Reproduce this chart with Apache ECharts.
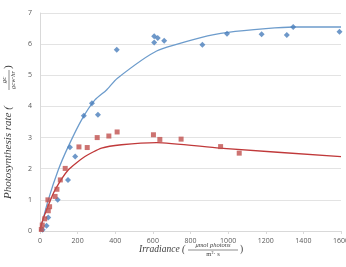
<!DOCTYPE html>
<html><head><meta charset="utf-8">
<script src="https://cdn.jsdelivr.net/npm/echarts@6/dist/echarts.min.js"></script>
<style>html,body{margin:0;padding:0;background:#fff;}#c{width:346px;height:267px;}</style>
</head><body><div id="c"></div>
<script>
// Measured data (irradiance, rate)
const blueX = [14, 35, 44, 94, 149, 159, 187, 233, 276, 308, 408, 607, 626, 607, 660, 863, 994, 1178, 1312, 1346, 1592];
const blueY = [0.04, 0.17, 0.43, 1.0, 1.64, 2.69, 2.39, 3.7, 4.1, 3.73, 5.82, 6.25, 6.2, 6.05, 6.11, 5.98, 6.33, 6.32, 6.29, 6.55, 6.4];
const redX = [7, 12, 25, 42, 44, 51, 80, 90, 108, 134, 207, 251, 304, 366, 410, 603, 637, 750, 960, 1059];
const redY = [0.05, 0.19, 0.39, 1.0, 0.65, 0.78, 1.11, 1.34, 1.64, 2.01, 2.7, 2.68, 3.0, 3.05, 3.18, 3.09, 2.94, 2.95, 2.71, 2.5];
// Fitted curves
const blueFitX = [0, 44, 97, 150, 221, 292, 354, 410, 620, 860, 1000, 1200, 1350, 1600];
const blueFitY = [0, 1.0, 1.96, 2.71, 3.57, 4.21, 4.53, 4.9, 5.78, 6.22, 6.38, 6.5, 6.55, 6.55];
const redFitX = [0, 9, 44, 80, 150, 239, 327, 433, 619, 955, 1600];
const redFitY = [0, 0.25, 0.82, 1.32, 1.96, 2.39, 2.66, 2.77, 2.84, 2.66, 2.39];
const xTicks = [0, 200, 400, 600, 800, 1000, 1200, 1400, 1600];

const zip = (a, b) => a.map((v, i) => [v, b[i]]);
const chart = echarts.init(document.getElementById('c'));
const serif = '"Liberation Serif", "DejaVu Serif", serif';
const tickStyle = {color: '#595959', fontSize: 7, fontFamily: '"Open Sans", "Liberation Sans", sans-serif'};
chart.setOption({
  animation: false,
  grid: {left: 40, right: 5, top: 13, bottom: 36, containLabel: false, outerBoundsMode: 'none'},
  xAxis: {
    type: 'value', min: 0, max: 1600, interval: 200,
    axisLine: {show: true, lineStyle: {color: '#d9d9d9'}},
    axisTick: {show: true, length: 3, lineStyle: {color: '#d9d9d9'}},
    splitLine: {show: false},
    axisLabel: Object.assign({margin: 6, formatter: v => String(v)}, tickStyle)
  },
  yAxis: {
    type: 'value', min: 0, max: 7, interval: 1,
    axisLine: {show: true, lineStyle: {color: '#d9d9d9'}},
    axisTick: {show: false},
    splitLine: {show: true, lineStyle: {color: '#e3e3e3'}},
    axisLabel: Object.assign({margin: 8}, tickStyle)
  },
  series: [
    {type: 'line', data: zip(blueFitX, blueFitY), showSymbol: false, smooth: 0.2, lineStyle: {color: '#6d9ccc', width: 1.3}, z: 2},
    {type: 'line', data: zip(redFitX, redFitY), showSymbol: false, smooth: 0.2, lineStyle: {color: '#c0393a', width: 1.3}, z: 2},
    {type: 'scatter', data: zip(blueX, blueY), symbol: 'diamond', symbolSize: 6, itemStyle: {color: '#4a7ebb'}, z: 3},
    {type: 'scatter', data: zip(redX, redY), symbol: 'rect', symbolSize: 5, itemStyle: {color: '#c0504d'}, z: 3}
  ],
  graphic: [
    {
      type: 'group', left: 139, top: 242,
      children: [
        {type: 'text', x: 0, y: 2, style: {text: 'Irradiance (', font: 'italic 9.5px ' + serif, fill: '#404040'}},
        {type: 'text', x: 74, y: 0, style: {text: 'μmol photons', font: 'italic 6.5px ' + serif, fill: '#404040', textAlign: 'center'}},
        {type: 'line', shape: {x1: 49, y1: 8, x2: 99, y2: 8}, style: {stroke: '#404040', lineWidth: 0.6}},
        {type: 'text', x: 74, y: 9, style: {text: 'm²· s', font: '6.5px ' + serif, fill: '#404040', textAlign: 'center'}},
        {type: 'text', x: 101, y: 2, style: {text: ')', font: '9.5px ' + serif, fill: '#404040'}}
      ]
    },
    {
      type: 'group', x: 3, y: 199, rotation: Math.PI / 2,
      children: [
        {type: 'text', x: 0, y: 0, style: {text: 'Photosynthesis rate (', font: 'italic 11px ' + serif, fill: '#404040'}},
        {type: 'text', x: 119, y: -2, style: {text: 'gc', font: 'italic 7px ' + serif, fill: '#404040', textAlign: 'center'}},
        {type: 'line', shape: {x1: 109, y1: 6, x2: 129, y2: 6}, style: {stroke: '#404040', lineWidth: 0.6}},
        {type: 'text', x: 119, y: 7, style: {text: 'gcw·hr', font: 'italic 6.5px ' + serif, fill: '#404040', textAlign: 'center'}},
        {type: 'text', x: 130, y: 0, style: {text: ')', font: '11px ' + serif, fill: '#404040'}}
      ]
    }
  ]
});
</script></body></html>
